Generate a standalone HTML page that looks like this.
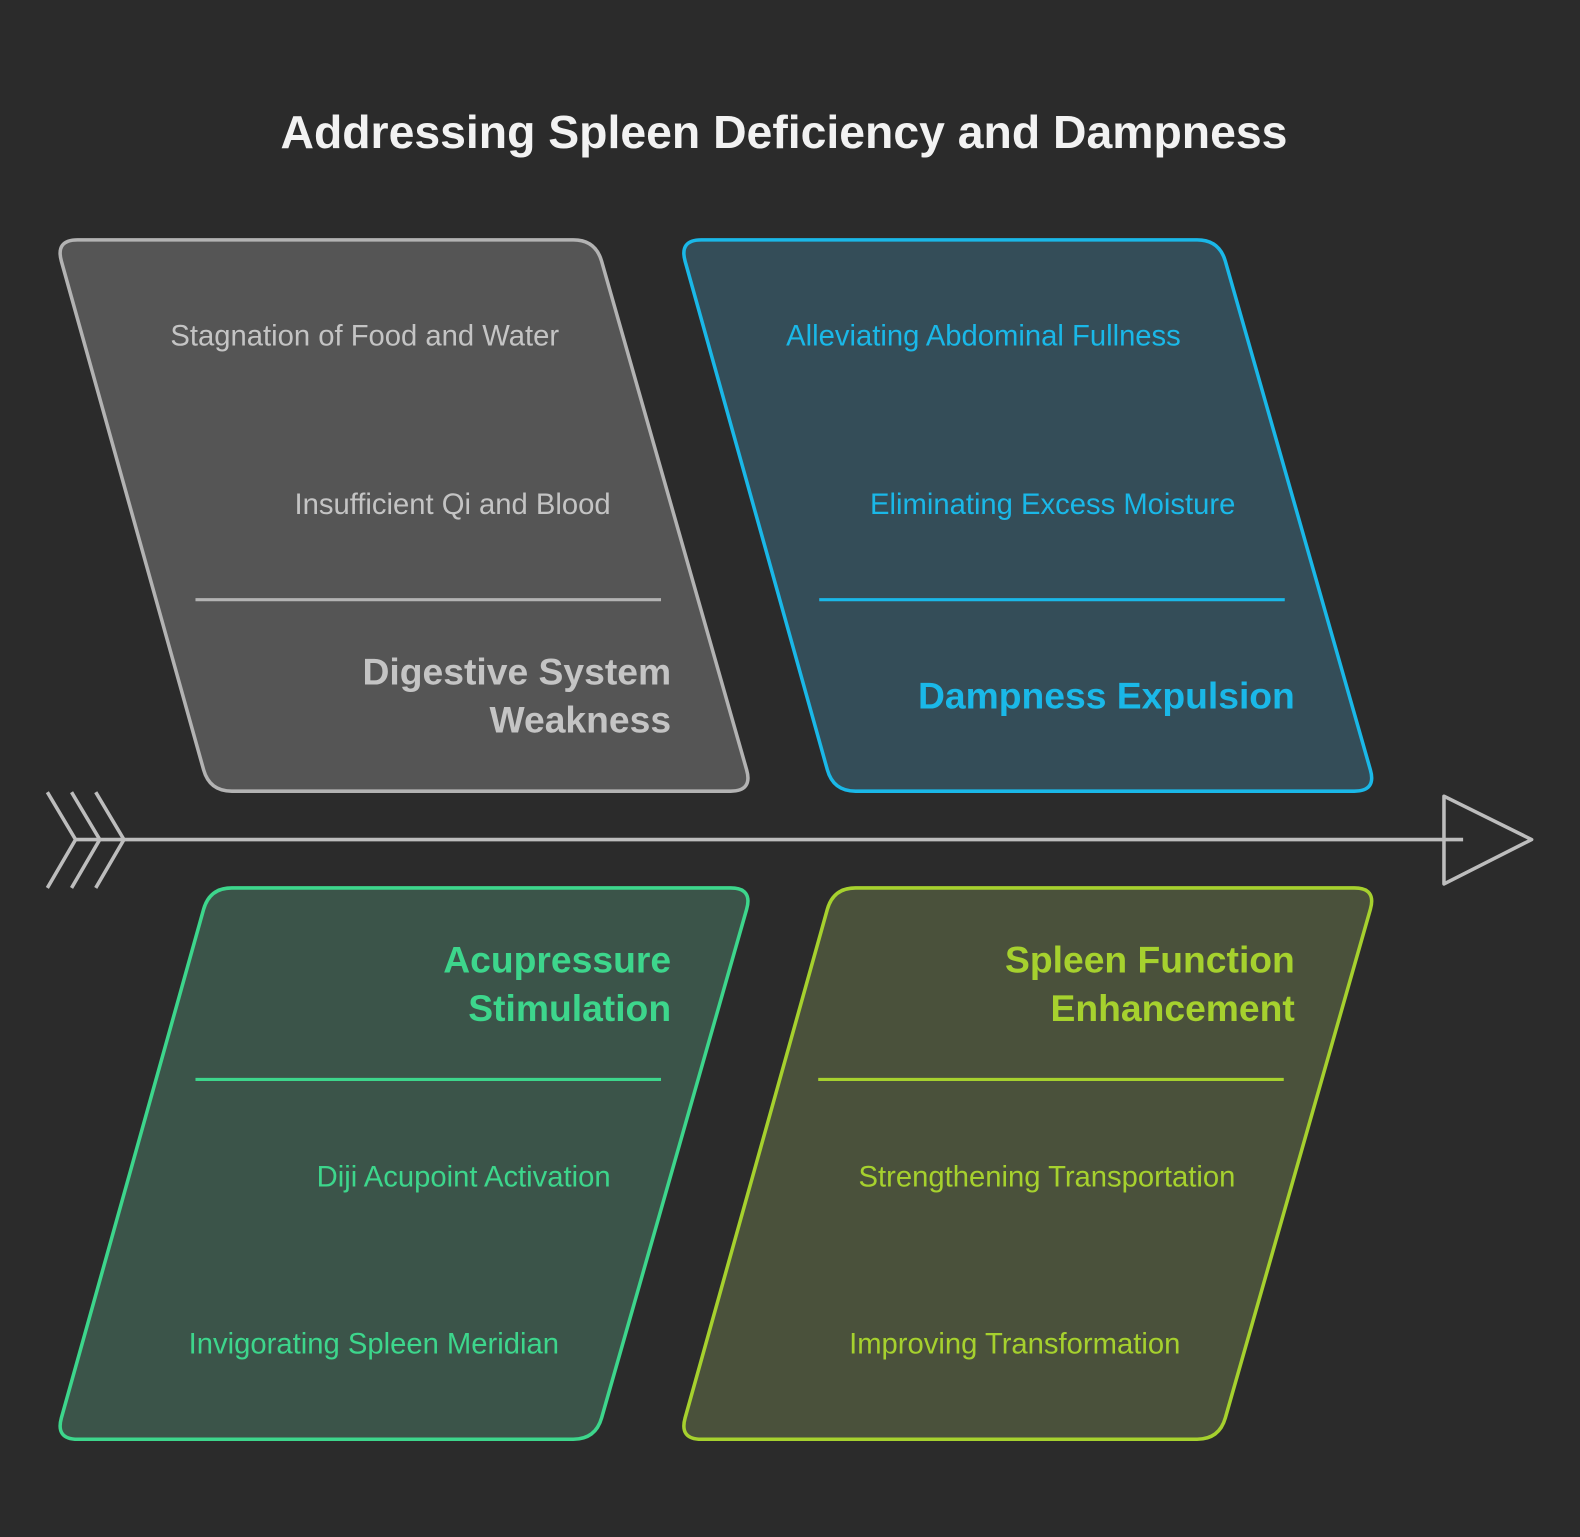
<!DOCTYPE html>
<html><head><meta charset="utf-8"><style>
html,body{margin:0;padding:0;background:#2b2b2b;}
svg{display:block;}
text{font-family:"Liberation Sans",sans-serif;}
</style></head><body>
<svg id="s" width="1580" height="1537" viewBox="0 0 1568 1525" preserveAspectRatio="none" xmlns="http://www.w3.org/2000/svg">
<rect width="1568" height="1525" fill="#2b2b2b"/>
<text x="778" y="147" text-anchor="middle" fill="#f2f2f2" font-size="46" font-weight="bold">Addressing Spleen Deficiency and Dampness</text>
<g id="shapes" stroke-width="3.5" stroke-linejoin="round"></g>
<g stroke-width="3">
<line x1="194" y1="595" x2="656" y2="595" stroke="#b3b3b3"/>
<line x1="813" y1="595" x2="1275" y2="595" stroke="#1ab8e8"/>
<line x1="194" y1="1071" x2="656" y2="1071" stroke="#3dd68c"/>
<line x1="812" y1="1071" x2="1274" y2="1071" stroke="#a6d12e"/>
</g>
<g stroke="#bdbdbd" stroke-width="3.5" fill="none" stroke-linejoin="round">
<line x1="75" y1="833" x2="1452" y2="833"/>
<polyline points="47,786 75,833 47,881"/>
<polyline points="71,786 99,833 71,881"/>
<polyline points="95,786 123,833 95,881"/>
<polygon points="1433,790 1520,833 1433,877"/>
</g>
<g font-size="29">
<text x="362" y="343" text-anchor="middle" fill="#c4c4c4">Stagnation of Food and Water</text>
<text x="606" y="510" text-anchor="end" fill="#c4c4c4">Insufficient Qi and Blood</text>
<text x="976" y="343" text-anchor="middle" fill="#1ab8e8">Alleviating Abdominal Fullness</text>
<text x="1226" y="510" text-anchor="end" fill="#1ab8e8">Eliminating Excess Moisture</text>
<text x="606" y="1177" text-anchor="end" fill="#3dd68c">Diji Acupoint Activation</text>
<text x="371" y="1343" text-anchor="middle" fill="#3dd68c">Invigorating Spleen Meridian</text>
<text x="1226" y="1177" text-anchor="end" fill="#a6d12e">Strengthening Transportation</text>
<text x="1007" y="1343" text-anchor="middle" fill="#a6d12e">Improving Transformation</text>
</g>
<g font-size="37" font-weight="bold" text-anchor="end">
<text x="666" y="679" fill="#c4c4c4">Digestive System</text>
<text x="666" y="727" fill="#c4c4c4">Weakness</text>
<text x="1285" y="703" fill="#1ab8e8">Dampness Expulsion</text>
<text x="666" y="965" fill="#3dd68c">Acupressure</text>
<text x="666" y="1013" fill="#3dd68c">Stimulation</text>
<text x="1285" y="965" fill="#a6d12e">Spleen Function</text>
<text x="1285" y="1013" fill="#a6d12e">Enhancement</text>
</g>
</svg>
<script>
var polys=[
 [[[55,238],[591,238],[747,785],[208,785]],"#555555","#b3b3b3"],
 [[[674,238],[1210,238],[1366,785],[827,785]],"#344d58","#1ab8e8"],
 [[[208,881],[747,881],[591,1428],[55,1428]],"#3b5449","#3dd68c"],
 [[[827,881],[1366,881],[1210,1428],[674,1428]],"#4a513b","#a6d12e"]
];
var g=document.getElementById("shapes"),r=22;
polys.forEach(function(p){
 var pts=p[0],n=pts.length,d="";
 for(var i=0;i<n;i++){
  var c=pts[i],a=pts[(i-1+n)%n],b=pts[(i+1)%n];
  function pt(q){var dx=q[0]-c[0],dy=q[1]-c[1],L=Math.hypot(dx,dy);return [c[0]+dx/L*r,c[1]+dy/L*r];}
  var s=pt(a),e=pt(b);
  d+=(i==0?"M":"L")+s[0]+","+s[1]+" Q"+c[0]+","+c[1]+" "+e[0]+","+e[1]+" ";
 }
 d+="Z";
 var el=document.createElementNS("http://www.w3.org/2000/svg","path");
 el.setAttribute("d",d);el.setAttribute("fill",p[1]);el.setAttribute("stroke",p[2]);
 g.appendChild(el);
});
</script>
</body></html>
